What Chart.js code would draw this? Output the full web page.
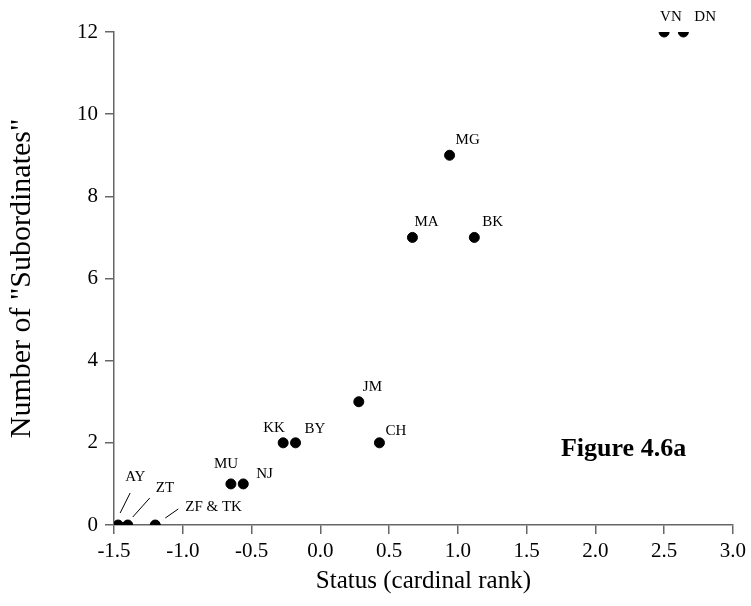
<!DOCTYPE html>
<html lang="en">
<head>
    <meta charset="UTF-8">
    <title>Status vs Number of Subordinates</title>
    <style>
        body { margin: 0; background: #fff; }
        #wrap { width: 751px; height: 606px; }
    </style>
</head>
<body>
    <div id="wrap">
        <canvas id="statusChart" width="751" height="606"></canvas>
    </div>

    <script src="https://cdn.jsdelivr.net/npm/chart.js"></script>

<script>
    // Individuals, their status (cardinal rank) and count of "subordinates"
    const names = ['AY', 'ZT', 'ZF & TK', 'MU', 'NJ', 'KK', 'BY', 'JM', 'CH', 'MA', 'BK', 'MG', 'VN', 'DN'];
    const statusRank = [-1.47, -1.40, -1.20, -0.65, -0.56, -0.27, -0.18, 0.28, 0.43, 0.67, 1.12, 0.94, 2.50, 2.64];
    const subordinates = [0, 0, 0, 1, 1, 2, 2, 3, 2, 7, 7, 9, 12, 12];

    const xTicks = [-1.5, -1.0, -0.5, 0.0, 0.5, 1.0, 1.5, 2.0, 2.5, 3.0];
    const yTicks = [0, 2, 4, 6, 8, 10, 12];

    // label placement relative to each dot (pixels): [dx to text start, dy to text middle]
    const labelOffsets = [
        [7, -48], [28, -37], [30, -18], [-17, -20], [13, -10], [-20, -15], [9, -14],
        [4, -15], [6, -12], [2, -15], [8, -15], [6, -15], [-4, -15], [11, -15]
    ];
    // short leader lines for the crowded labels near the origin: [x1, y1, x2, y2] relative to the dot
    const leaders = {
        0: [12, -32, 2, -12],
        1: [22, -27, 5, -8],
        2: [23, -16, 10, -7]
    };

    const axisColor = '#666';
    const serif = "'Liberation Serif', 'Times New Roman', serif";

    const pointLabels = {
        id: 'pointLabels',
        afterDatasetsDraw(chart) {
            const ctx = chart.ctx;
            const meta = chart.getDatasetMeta(0);
            ctx.save();
            ctx.fillStyle = '#000';
            ctx.strokeStyle = '#000';
            ctx.lineWidth = 1;
            ctx.font = '15px ' + serif;
            ctx.textAlign = 'left';
            ctx.textBaseline = 'middle';
            meta.data.forEach((pt, i) => {
                const [dx, dy] = labelOffsets[i];
                ctx.fillText(names[i], pt.x + dx, pt.y + dy);
                const l = leaders[i];
                if (l) {
                    ctx.beginPath();
                    ctx.moveTo(pt.x + l[0], pt.y + l[1]);
                    ctx.lineTo(pt.x + l[2], pt.y + l[3]);
                    ctx.stroke();
                }
            });
            // figure caption inside the plot
            ctx.font = 'bold 26px ' + serif;
            ctx.textAlign = 'left';
            ctx.fillText('Figure 4.6a', chart.scales.x.getPixelForValue(1.75), chart.scales.y.getPixelForValue(1.85));
            ctx.restore();
        }
    };

    const chart = new Chart(document.getElementById('statusChart'), {
        type: 'scatter',
        data: {
            datasets: [{
                data: statusRank.map((x, i) => ({ x: x, y: subordinates[i] })),
                backgroundColor: '#000',
                borderColor: '#000',
                pointRadius: 5,
                pointHoverRadius: 5
            }]
        },
        options: {
            responsive: false,
            devicePixelRatio: 1,
            animation: false,
            events: [],
            layout: { padding: { top: 32, right: 15, left: 0, bottom: 0 } },
            plugins: {
                legend: { display: false },
                tooltip: { enabled: false }
            },
            scales: {
                x: {
                    type: 'linear',
                    min: -1.5,
                    max: 3.0,
                    afterFit: s => { s.height = 81; },
                    afterBuildTicks: s => { s.ticks = xTicks.map(v => ({ value: v })); },
                    border: { display: true, color: axisColor, width: 1.5 },
                    grid: { drawOnChartArea: false, drawTicks: true, tickLength: 9, color: axisColor, lineWidth: 1.5 },
                    ticks: {
                        padding: 5,
                        color: '#000',
                        font: { family: serif, size: 21 },
                        callback: v => v.toFixed(1)
                    },
                    title: {
                        display: true,
                        text: 'Status (cardinal rank)',
                        color: '#000',
                        font: { family: serif, size: 25 },
                        padding: { top: 0, bottom: 10 }
                    }
                },
                y: {
                    type: 'linear',
                    min: 0,
                    max: 12,
                    afterFit: s => { s.width = 114; },
                    afterBuildTicks: s => { s.ticks = yTicks.map(v => ({ value: v })); },
                    border: { display: true, color: axisColor, width: 1.5 },
                    grid: { drawOnChartArea: false, drawTicks: true, tickLength: 9, color: axisColor, lineWidth: 1.5 },
                    ticks: {
                        padding: 7,
                        color: '#000',
                        font: { family: serif, size: 21 },
                        callback: v => String(v)
                    },
                    title: {
                        display: true,
                        text: 'Number of "Subordinates"',
                        color: '#000',
                        font: { family: serif, size: 30 },
                        padding: { top: 4, bottom: 0 }
                    }
                }
            }
        },
        plugins: [pointLabels]
    });
</script>
</body>
</html>
